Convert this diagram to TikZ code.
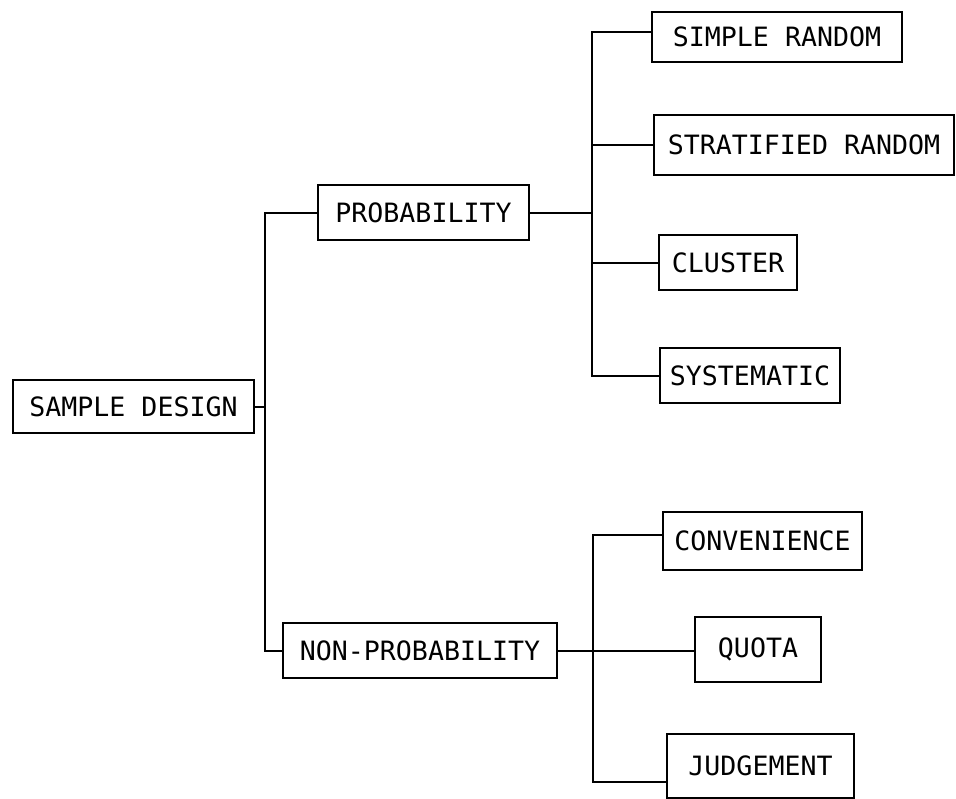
\documentclass[tikz,border=0pt]{standalone}
\usepackage{fontspec}
\newfontfamily\typefont{DejaVu Sans Mono}
\begin{document}
\begin{tikzpicture}[x=0.5pt, y=-0.5pt, line width=1pt,
  box/.style={draw, inner sep=0pt, font=\typefont\fontsize{13.3}{16}\selectfont}]
\useasboundingbox (0,0) rectangle (956,798);
% left level
\node[box, minimum width=120.5pt, minimum height=26.5pt] (sd) at (133.5,406.5) {SAMPLE DESIGN};
\node[box, minimum width=105.5pt, minimum height=27.5pt] (prob) at (423.5,212.5) {PROBABILITY};
\node[box, minimum width=137pt, minimum height=27.5pt] (nonprob) at (420,650.5) {NON-PROBABILITY};
% probability methods
\node[box, minimum width=125pt, minimum height=25pt] (simple) at (777,37) {SIMPLE RANDOM};
\node[box, minimum width=150pt, minimum height=30pt] (strat) at (804,145) {STRATIFIED RANDOM};
\node[box, minimum width=69pt, minimum height=27.5pt] (cluster) at (728,262.5) {CLUSTER};
\node[box, minimum width=90pt, minimum height=27.5pt] (syst) at (750,375.5) {SYSTEMATIC};
% non-probability methods
\node[box, minimum width=99.5pt, minimum height=29pt] (conv) at (762.5,541) {CONVENIENCE};
\node[box, minimum width=63pt, minimum height=32.5pt] (quota) at (758,649.5) {QUOTA};
\node[box, minimum width=93.5pt, minimum height=32pt] (judge) at (760.5,765.5) {JUDGEMENT};
% trunks
\coordinate (t1) at (265,0);
\coordinate (t2) at (592,0);
\coordinate (t3) at (593,0);
\draw (sd.east) -- (sd.east -| t1);
\draw (prob.west) -- (prob.west -| t1) -- (nonprob.west -| t1) -- (nonprob.west);
\draw (prob.east) -- (prob.east -| t2);
\draw ([yshift=2.5pt]simple.west) -- ([yshift=2.5pt]simple.west -| t2) -- (syst.west -| t2) -- (syst.west);
\foreach \n in {strat,cluster} \draw (\n.west) -- (\n.west -| t2);
\draw (nonprob.east) -- (nonprob.east -| quota.west);
\draw ([yshift=3pt]conv.west) -- ([yshift=3pt]conv.west -| t3) -- ([yshift=-8pt]judge.west -| t3) -- ([yshift=-8pt]judge.west);
\end{tikzpicture}
\end{document}
